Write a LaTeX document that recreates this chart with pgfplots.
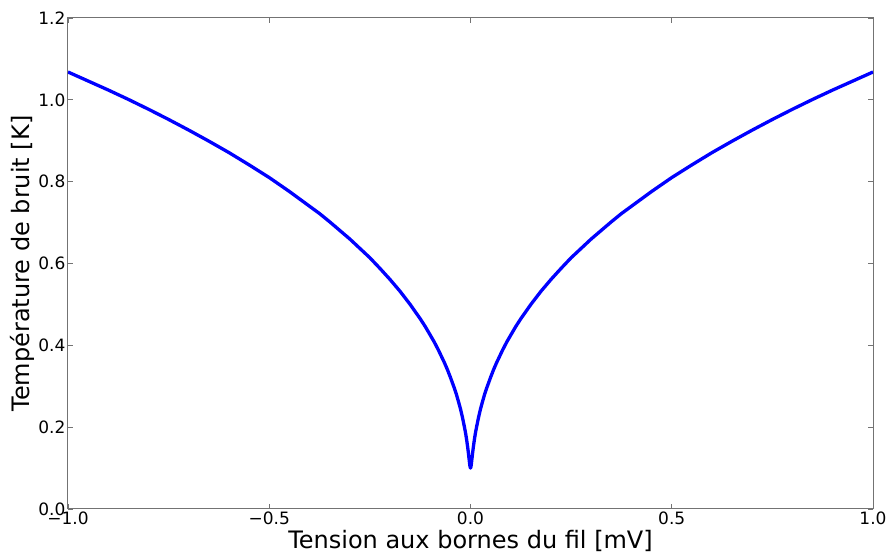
\documentclass[border=0pt]{standalone}
\usepackage{fontspec}
\setmainfont{DejaVu Sans}
\usepackage{pgfplots}
\pgfplotsset{compat=1.18}

\begin{document}
\begin{tikzpicture}
\path[use as bounding box] (-68pt,-45pt) rectangle (821pt,509pt);
\begin{axis}[
    at={(0pt,0pt)}, anchor=south west,
    width=805pt, height=491pt, scale only axis,
    xmin=-1, xmax=1, ymin=0, ymax=1.2,
    xtick={-1,-0.5,0,0.5,1},
    xticklabels={−1.0,−0.5,0.0,0.5,1.0},
    ytick={0,0.2,0.4,0.6,0.8,1.0,1.2},
    yticklabels={0.0,0.2,0.4,0.6,0.8,1.0,1.2},
    tick align=inside,
    xtick pos=both, ytick pos=both,
    xticklabel pos=lower, yticklabel pos=left,
    major tick length=5pt,
    axis line style={black!55, line width=1pt},
    tick style={black!55, line width=0.8pt},
    ticklabel style={font=\fontsize{17}{20}\selectfont},
    yticklabel style={xshift=1pt},
    xticklabel style={yshift=1pt},
    xlabel={Tension aux bornes du fil [mV]},
    ylabel={Température de bruit [K]},
    label style={font=\fontsize{24}{28}\selectfont},
    xlabel style={at={(axis description cs:0.5,-0.065)}, anchor=center},
    ylabel style={at={(axis description cs:-0.0571,0.5)}, anchor=center},
]
% noise temperature
\addplot[color=blue, line width=3.3pt, line join=round] table {
x        y
-1.000   1.068
-0.950   1.046
-0.900   1.024
-0.850   1.001
-0.800   0.977
-0.750   0.952
-0.700   0.926
-0.650   0.899
-0.600   0.871
-0.550   0.841
-0.500   0.810
-0.450   0.776
-0.400   0.740
-0.375   0.722
-0.350   0.702
-0.325   0.681
-0.300   0.660
-0.275   0.637
-0.250   0.614
-0.225   0.588
-0.200   0.561
-0.175   0.532
-0.150   0.500
-0.125   0.465
-0.1125  0.446
-0.100   0.425
-0.090   0.408
-0.080   0.389
-0.065   0.358
-0.0575  0.341
-0.050   0.322
-0.040   0.295
-0.035   0.280
-0.030   0.263
-0.025   0.245
-0.020   0.224
-0.015   0.200
-0.0125  0.187
-0.010   0.172
-0.007   0.151
-0.0055  0.139
-0.004   0.126
-0.003   0.118
-0.002   0.109
-0.001   0.103
 0.000   0.100
 0.001   0.103
 0.002   0.109
 0.003   0.118
 0.004   0.126
 0.0055  0.139
 0.007   0.151
 0.010   0.172
 0.0125  0.187
 0.015   0.200
 0.020   0.224
 0.025   0.245
 0.030   0.263
 0.035   0.280
 0.040   0.295
 0.050   0.322
 0.0575  0.341
 0.065   0.358
 0.080   0.389
 0.090   0.408
 0.100   0.425
 0.1125  0.446
 0.125   0.465
 0.150   0.500
 0.175   0.532
 0.200   0.561
 0.225   0.588
 0.250   0.614
 0.275   0.637
 0.300   0.660
 0.325   0.681
 0.350   0.702
 0.375   0.722
 0.400   0.740
 0.450   0.776
 0.500   0.810
 0.550   0.841
 0.600   0.871
 0.650   0.899
 0.700   0.926
 0.750   0.952
 0.800   0.977
 0.850   1.001
 0.900   1.024
 0.950   1.046
 1.000   1.068
};
\end{axis}
\end{tikzpicture}
\end{document}
